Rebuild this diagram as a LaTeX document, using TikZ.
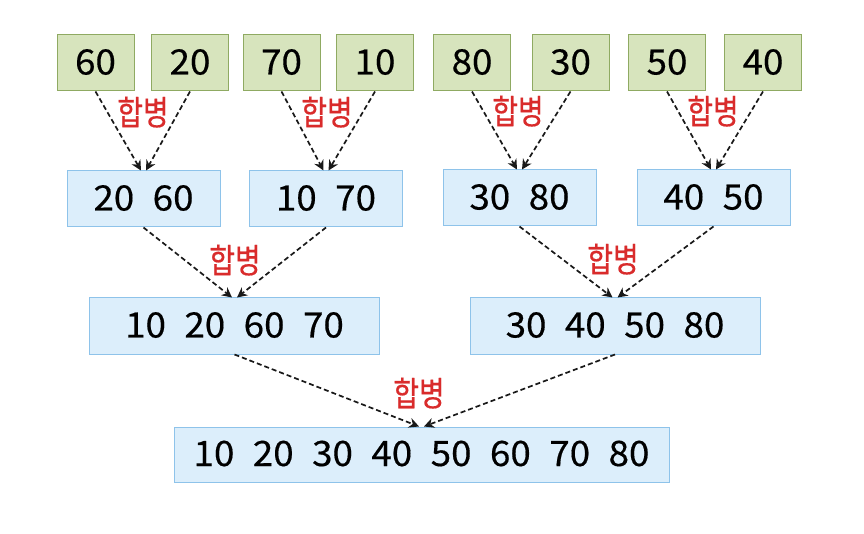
\documentclass[tikz,border=0pt]{standalone}
\usepackage{fontspec}
\setmainfont{Noto Sans CJK KR}
\newfontfamily\numfont[FakeStretch=1.05,FakeBold=0.4]{Noto Sans CJK KR}
\newfontfamily\korfont[FakeStretch=0.82,FakeBold=0.5]{Noto Sans CJK KR}
\usetikzlibrary{arrows.meta}
\definecolor{gfill}{HTML}{D7E4BD}
\definecolor{gdraw}{HTML}{8FAA62}
\definecolor{bfill}{HTML}{DCEEFB}
\definecolor{bdraw}{HTML}{8EC3EA}
\definecolor{lred}{HTML}{D92B2B}
\newcommand{\gp}{\hspace{18.5pt}}
\begin{document}
\begin{tikzpicture}[x=1pt,y=-1pt,
  numtext/.style={inner sep=0pt,font=\numfont\fontsize{35pt}{35pt}\selectfont,text height=25pt,text depth=2pt},
  leaf/.style={numtext,draw=gdraw,fill=gfill,line width=1pt,minimum width=77pt,minimum height=56pt},
  lvltwo/.style={numtext,draw=bdraw,fill=bfill,line width=1pt,minimum width=153pt,minimum height=56pt},
  lvlthree/.style={numtext,draw=bdraw,fill=bfill,line width=1pt,minimum width=290pt,minimum height=56pt},
  lvlfour/.style={numtext,draw=bdraw,fill=bfill,line width=1pt,minimum width=495pt,minimum height=55pt},
  mergearrow/.style={draw=black!90,line width=1.7pt,dash pattern=on 5pt off 3pt,-{Stealth[length=10pt,width=10pt]}},
  mlabel/.style={inner sep=0pt,text=lred,font=\korfont\fontsize{34pt}{34pt}\selectfont,text height=25pt,text depth=3pt}
]
\useasboundingbox (0,0) rectangle (864,534);
\fill[white] (0,0) rectangle (864,534);
% leaves
\node[leaf] (a1) at (95.5,63) {60};
\node[leaf] (a2) at (190,63) {20};
\node[leaf] (a3) at (281.5,63) {70};
\node[leaf] (a4) at (375,63) {10};
\node[leaf] (a5) at (472,63) {80};
\node[leaf] (a6) at (570.5,63) {30};
\node[leaf] (a7) at (667,63) {50};
\node[leaf] (a8) at (763,63) {40};
% level two
\node[lvltwo] (b1) at (143.5,199) {20\gp60};
\node[lvltwo] (b2) at (326,199) {10\gp70};
\node[lvltwo] (b3) at (519.5,198) {30\gp80};
\node[lvltwo] (b4) at (713.5,198) {40\gp50};
% level three
\node[lvlthree] (c1) at (234.5,326) {10\gp20\gp60\gp70};
\node[lvlthree] (c2) at (615,326) {30\gp40\gp50\gp80};
% level four
\node[lvlfour] (d1) at (421.5,454.5) {10\gp20\gp30\gp40\gp50\gp60\gp70\gp80};
% arrows
\draw[mergearrow] (a1.south) -- ([xshift=-2.5pt]b1.north);
\draw[mergearrow] (a2.south) -- ([xshift=2.5pt]b1.north);
\draw[mergearrow] (a3.south) -- ([xshift=-2.5pt]b2.north);
\draw[mergearrow] (a4.south) -- ([xshift=2.5pt]b2.north);
\draw[mergearrow] (a5.south) -- ([xshift=-2.5pt]b3.north);
\draw[mergearrow] (a6.south) -- ([xshift=2.5pt]b3.north);
\draw[mergearrow] (a7.south) -- ([xshift=-2.5pt]b4.north);
\draw[mergearrow] (a8.south) -- ([xshift=2.5pt]b4.north);
\draw[mergearrow] (b1.south) -- ([xshift=-2.5pt]c1.north);
\draw[mergearrow] (b2.south) -- ([xshift=2.5pt]c1.north);
\draw[mergearrow] (b3.south) -- ([xshift=-2.5pt]c2.north);
\draw[mergearrow] (b4.south) -- ([xshift=2.5pt]c2.north);
\draw[mergearrow] (c1.south) -- ([xshift=-2.5pt]d1.north);
\draw[mergearrow] (c2.south) -- ([xshift=2.5pt]d1.north);
% labels
\node[mlabel] (l1) at (143,114) {합병};
\node[mlabel] (l2) at (327,114) {합병};
\node[mlabel] (l3) at (518,113) {합병};
\node[mlabel] (l4) at (713,113) {합병};
\node[mlabel] (l5) at (235,262) {합병};
\node[mlabel] (l6) at (613,261) {합병};
\node[mlabel] (l7) at (419,395) {합병};
\end{tikzpicture}
\end{document}
